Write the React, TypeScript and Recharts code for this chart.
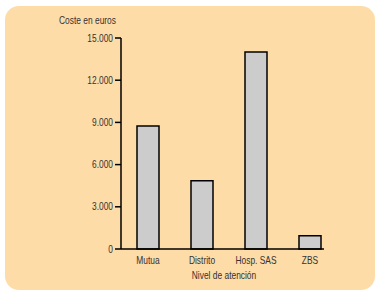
import { BarChart, Bar, XAxis, YAxis } from 'recharts';

const niveles = ['Mutua', 'Distrito', 'Hosp. SAS', 'ZBS'];
const costes = [8750, 4850, 14000, 950];
const yTicks = [0, 3000, 6000, 9000, 12000, 15000];

const data = niveles.map((nivel, i) => ({ nivel, coste: costes[i] }));

const font = '"Liberation Sans", Arial, sans-serif';
const squeeze = 0.84; // the original uses a narrow face
const textColor = '#333';

const fmt = (v: number) => (v === 0 ? '0' : v.toLocaleString('de-DE'));

function XTick(props: any) {
    const { x, y, payload } = props;
    return (
        <g transform={`translate(${x},${y})`}>
            <text transform={`scale(${squeeze},1)`} textAnchor="middle" dy="0.71em" fontSize={10} fill={textColor} fontFamily={font}>
                {payload.value}
            </text>
        </g>
    );
}

function YTick(props: any) {
    const { x, y, payload } = props;
    return (
        <g transform={`translate(${x},${y})`}>
            <text transform={`scale(${squeeze},1)`} textAnchor="end" dy="0.355em" fontSize={10} fill={textColor} fontFamily={font}>
                {fmt(payload.value)}
            </text>
        </g>
    );
}

export default function App() {
    return (
        <div style={{ position: 'absolute', left: 0, top: 0, width: 380, height: 297, background: '#fff', fontFamily: font }}>
            <div
                style={{
                    position: 'absolute',
                    left: 5,
                    top: 6,
                    width: 370,
                    height: 284,
                    background: '#FDDCA8',
                    borderRadius: 14,
                }}
            />
            <div
                style={{
                    position: 'absolute',
                    left: 59,
                    top: 15,
                    fontSize: 10,
                    lineHeight: '12px',
                    color: textColor,
                    whiteSpace: 'nowrap',
                    transform: `scaleX(${squeeze})`,
                    transformOrigin: 'left center',
                }}
            >
                Coste en euros
            </div>
            <div style={{ position: 'absolute', left: 0, top: 0 }}>
                <BarChart width={380} height={297} data={data} margin={{ top: 38, right: 56, bottom: 18, left: 0 }}>
                    <YAxis
                        width={121}
                        domain={[0, 15000]}
                        ticks={yTicks}
                        interval={0}
                        axisLine={{ stroke: '#000', strokeWidth: 1.5 }}
                        tickLine={{ stroke: '#000', strokeWidth: 1.5 }}
                        tickSize={6}
                        tickMargin={2}
                        tick={<YTick />}
                    />
                    <XAxis
                        dataKey="nivel"
                        height={30}
                        interval={0}
                        padding={{ left: 0, right: -13 }}
                        axisLine={{ stroke: '#000', strokeWidth: 1.5 }}
                        tickLine={false}
                        tickSize={6}
                        tickMargin={2}
                        tick={<XTick />}
                    />
                    <Bar dataKey="coste" barSize={22} fill="#CCCCCC" stroke="#000" strokeWidth={1.5} isAnimationActive={false} />
                </BarChart>
            </div>
            <div
                style={{
                    position: 'absolute',
                    left: 224,
                    top: 270,
                    fontSize: 10,
                    lineHeight: '12px',
                    color: textColor,
                    whiteSpace: 'nowrap',
                    transform: `translateX(-50%) scaleX(${squeeze})`,
                }}
            >
                Nivel de atención
            </div>
        </div>
    );
}
